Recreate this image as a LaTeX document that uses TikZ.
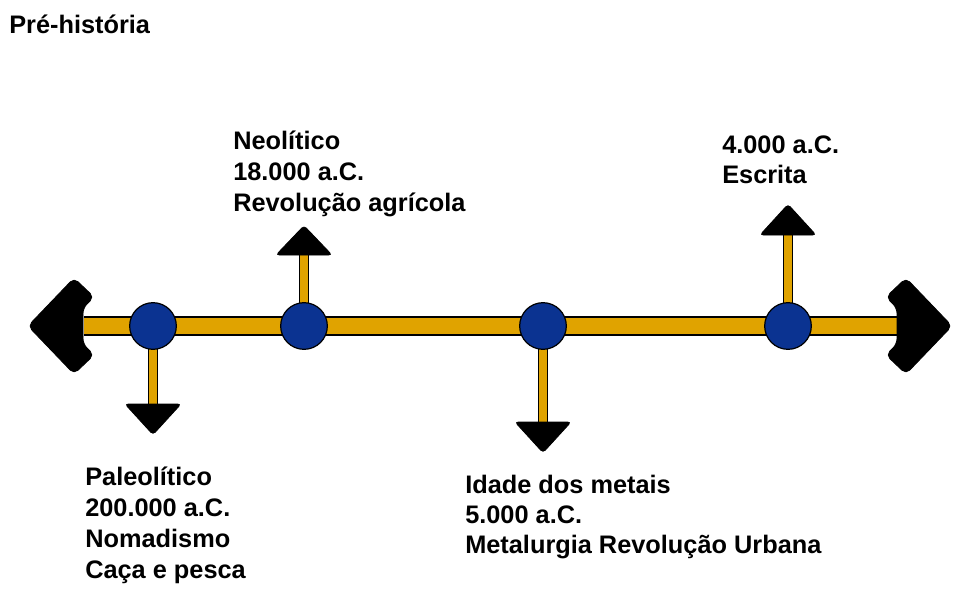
\documentclass[tikz,border=0pt]{standalone}
\usepackage{fontspec}
\setmainfont{Liberation Sans}
\usetikzlibrary{backgrounds}
\definecolor{barorange}{RGB}{224,163,0}
\definecolor{dotblue}{RGB}{11,51,145}
\tikzset{
  lbl/.style={anchor=base west, inner sep=0pt, align=left, font=\bfseries\fontsize{19}{23.25}\selectfont},
  lblb/.style={lbl, font=\bfseries\fontsize{19}{22.5}\selectfont},
  dot/.style={circle, draw=black, line width=0.9pt, fill=dotblue, minimum size=35pt, inner sep=0pt},
  mainbar/.style={draw=black, line width=0.9pt, double=barorange, double distance=12.6pt},
  stem/.style={draw=black, line width=0.9pt, double=barorange, double distance=6pt},
  head/.style={fill=black, draw=black, line width=0.6pt, rounded corners=2.5pt},
}
\begin{document}
\begin{tikzpicture}[x=0.75pt,y=-0.75pt]
\useasboundingbox (0,0) rectangle (960,604);
\node[lbl] (title) at (9,33) {Pré-história};
% timeline points
\node[dot] (c1) at (153,326) {};
\node[dot] (c2) at (304,326) {};
\node[dot] (c3) at (543,326) {};
\node[dot] (c4) at (788,326) {};
% bar ends and stem ends
\coordinate (lend) at (84,326);
\coordinate (rend) at (897,326);
\coordinate (a1) at (153,404);
\coordinate (a2) at (304,255);
\coordinate (a3) at (543,422);
\coordinate (a4) at (788,235);
\begin{pgfonlayer}{background}
\draw[mainbar] (lend) -- (rend);
\draw[stem] (c1.center) -- (a1);
\draw[stem] (c2.center) -- (a2);
\draw[stem] (c3.center) -- (a3);
\draw[stem] (c4.center) -- (a4);
% big arrowheads
\filldraw[head, rounded corners=4pt] (28,326) -- (74,278) -- (94,297) -- (83,308) -- (83,344) -- (94,355) -- (74,374) -- cycle;
\filldraw[head, rounded corners=4pt] (952,326) -- (906,278) -- (886,297) -- (897,308) -- (897,344) -- (886,355) -- (906,374) -- cycle;
% small arrowheads
\filldraw[head] ([xshift=-21pt]a1) -- ([xshift=21pt]a1) -- ([yshift=-23pt]a1) -- cycle;
\filldraw[head] ([xshift=-21pt]a2) -- ([xshift=21pt]a2) -- ([yshift=22pt]a2) -- cycle;
\filldraw[head] ([xshift=-21pt]a3) -- ([xshift=21pt]a3) -- ([yshift=-23pt]a3) -- cycle;
\filldraw[head] ([xshift=-21pt]a4) -- ([xshift=21pt]a4) -- ([yshift=23pt]a4) -- cycle;
\end{pgfonlayer}
% labels (anchored at the baseline of the last line)
\node[lbl] (t2) at (233,211) {Neolítico\\18.000 a.C.\\Revolução agrícola};
\node[lblb] (t4) at (722,183) {4.000 a.C.\\Escrita};
\node[lbl] (t1) at (85,578) {Paleolítico\\200.000 a.C.\\Nomadismo\\Caça e pesca};
\node[lblb] (t3) at (465,553) {Idade dos metais\\5.000 a.C.\\Metalurgia Revolução Urbana};
\end{tikzpicture}
\end{document}
